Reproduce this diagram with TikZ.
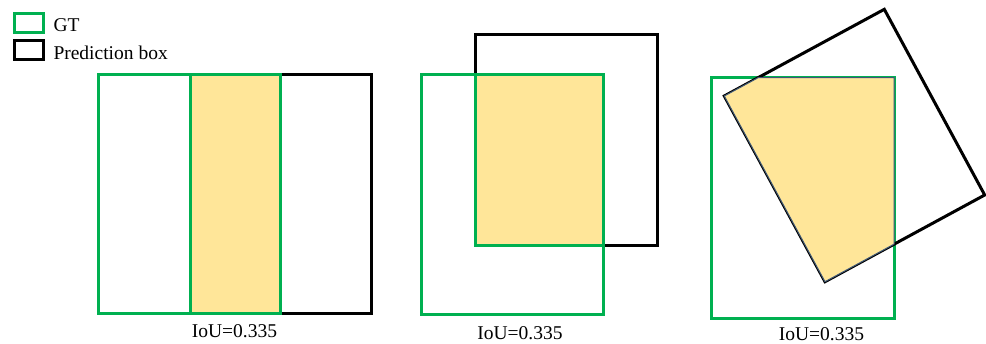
\documentclass[tikz,border=0pt]{standalone}
\usepackage{fontspec}
\setmainfont{Liberation Serif}
\definecolor{gtgreen}{HTML}{00B050}
\definecolor{overlap}{HTML}{FFE699}
\definecolor{edgeblue}{HTML}{3E5775}
\begin{document}
\begin{tikzpicture}[x=1pt,y=-1pt,
  gtbox/.style={draw=gtgreen,line width=3pt},
  predbox/.style={draw=black,line width=3pt},
  interbox/.style={fill=overlap,draw=gtgreen,line width=3pt},
  interpoly/.style={fill=overlap,draw=edgeblue,line width=1pt,line join=round},
  lbl/.style={font=\fontsize{19.5}{22}\selectfont,inner sep=0pt,anchor=base},
  legtxt/.style={font=\fontsize{19.5}{22}\selectfont,inner sep=0pt,anchor=base west}]
\useasboundingbox (0,0) rectangle (986,343);

% legend
\draw[gtbox] (14.5,13.8) rectangle (43.5,32.5);
\draw[predbox] (14,40) rectangle (43.5,59.5);
\node[legtxt] (legGT) at (53.3,31) {GT};
\node[legtxt] (legPred) at (53.3,59) {Prediction box};

% panel 1: side-by-side shift
\draw[predbox] (190,74) rectangle (371.5,313);
\draw[gtbox] (98.5,74) rectangle (280.5,313);
\draw[interbox] (190,74) rectangle (280.5,313);
\node[lbl] (iou1) at (234.5,337.5) {IoU=0.335};

% panel 2: diagonal shift
\draw[predbox] (475,34) rectangle (657,245);
\draw[gtbox] (421,74.3) rectangle (603,314);
\draw[interbox] (475,74.3) rectangle (603,245);
\node[lbl] (iou2) at (520,339.5) {IoU=0.335};

% panel 3: rotated prediction
\coordinate (pL) at (724.3,96);
\coordinate (pT) at (884.3,9.3);
\coordinate (pR) at (984.7,195);
\coordinate (pB) at (825,281.7);
\draw[gtbox] (711,77.7) rectangle (894,318.3);
\draw[predbox,line join=miter] (pL) -- (pT) -- (pR) -- (pB) -- cycle;
\draw[interpoly] (pL) -- (758.1,77.7) -- (894,77.7) -- (894,244.2) -- (pB) -- cycle;
\node[lbl] (iou3) at (821.5,340) {IoU=0.335};
\end{tikzpicture}
\end{document}
